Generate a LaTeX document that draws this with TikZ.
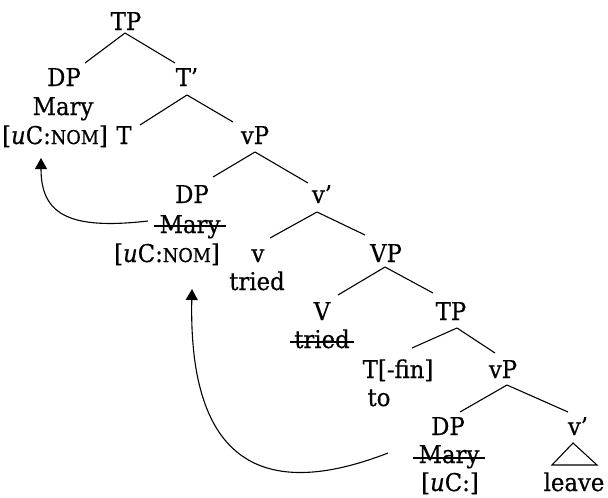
\documentclass[tikz,border=0pt]{standalone}
\usepackage{fontspec}
\setmainfont{DejaVu Serif}[FakeStretch=0.93,FakeBold=0.5]
\usetikzlibrary{arrows.meta,calc}
\newcommand\fakesc[1]{{\fontsize{19}{20}\selectfont #1}}
\begin{document}
\begin{tikzpicture}[x=1pt,y=-1pt,
  lbl/.style={anchor=base,inner sep=0pt,font=\fontsize{24.5}{28}\selectfont},
  edge/.style={line width=1.1pt},
  strike/.style={line width=1.1pt},
  mv/.style={line width=1.1pt,-{Triangle[width=12pt,length=11pt]}}]
\useasboundingbox (0,0) rectangle (608,498);
% row 0
\node[lbl] (tp0) at (126,30) {TP};
% row 1
\node[lbl] (dp1) at (64,86) {DP};
\node[lbl] (mary1) at (63,115) {Mary};
\node[lbl] (uc1) at (55,144) {[\textit{u}C:\fakesc{NOM}]};
\node[lbl] (tbar) at (187,86) {T’};
% row 2
\node[lbl] (t1) at (124,144) {T};
\node[lbl] (vp1) at (255,144) {vP};
% row 3
\node[lbl] (dp2) at (192,203) {DP};
\node[lbl] (mary2) at (190,233) {Mary};
\node[lbl] (uc2) at (167,262) {[\textit{u}C:\fakesc{NOM}]};
\node[lbl] (vbar2) at (322,203) {v’};
% row 4
\node[lbl] (v2) at (258,262) {v};
\node[lbl] (tried1) at (257,290) {tried};
\node[lbl] (VP) at (386,262) {VP};
% row 5
\node[lbl] (V) at (322,320) {V};
\node[lbl] (tried2) at (322,348) {tried};
\node[lbl] (tp3) at (451,320) {TP};
% row 6
\node[lbl] (tfin) at (398,378) {T[-fin]};
\node[lbl] (to) at (379,406) {to};
\node[lbl] (vp3) at (503,378) {vP};
% row 7
\node[lbl] (dp3) at (448,435) {DP};
\node[lbl] (mary3) at (449,463) {Mary};
\node[lbl] (uc3) at (450,491) {[\textit{u}C:]};
\node[lbl] (vbar3) at (578,435) {v’};
\node[lbl] (leave) at (574,491) {leave};

% tree edges
\draw[edge] ($(tp0.base)+(-1,3)$) -- ($(dp1.base)+(21,-23)$);
\draw[edge] ($(tp0.base)+(-1,3)$) -- ($(tbar.base)+(-12,-23)$);
\draw[edge] ($(tbar.base)+(0,9)$) -- ($(t1.base)+(16,-19)$);
\draw[edge] ($(tbar.base)+(0,9)$) -- ($(vp1.base)+(-22,-22)$);
\draw[edge] ($(vp1.base)+(0,8)$) -- ($(dp2.base)+(21,-26)$);
\draw[edge] ($(vp1.base)+(0,8)$) -- ($(vbar2.base)+(-14,-20)$);
\draw[edge] ($(vbar2.base)+(-5,9)$) -- ($(v2.base)+(12,-24)$);
\draw[edge] ($(vbar2.base)+(-5,9)$) -- ($(VP.base)+(-21,-27)$);
\draw[edge] ($(VP.base)+(-1,5)$) -- ($(V.base)+(16,-25)$);
\draw[edge] ($(VP.base)+(-1,5)$) -- ($(tp3.base)+(-18,-27)$);
\draw[edge] ($(tp3.base)+(6,8)$) -- ($(tfin.base)+(14,-30)$);
\draw[edge] ($(tp3.base)+(6,8)$) -- ($(vp3.base)+(-8,-25)$);
\draw[edge] ($(vp3.base)+(4,7)$) -- ($(dp3.base)+(12,-23)$);
\draw[edge] ($(vp3.base)+(4,7)$) -- ($(vbar3.base)+(-10,-23)$);
% triangle
\draw[edge] ($(vbar3.base)+(-5,8)$) -- ($(leave.base)+(-22,-26)$) -- ($(leave.base)+(23,-26)$) -- cycle;

% strike-throughs
\draw[strike] ($(mary2.base west)+(-5,-7)$) -- ($(mary2.base east)+(5,-7)$);
\draw[strike] ($(tried2.base west)+(-4,-6)$) -- ($(tried2.base east)+(4,-6)$);
\draw[strike] ($(mary3.base west)+(-5,-5)$) -- ($(mary3.base east)+(5,-5)$);

% movement arrows
\draw[mv] ($(mary2.base)+(-42,-12)$) .. controls ($(uc1.base)+(15,86)$) and ($(uc1.base)+(-14,71)$) .. ($(uc1.base)+(-14,14)$);
\draw[mv] ($(mary3.base)+(-61,-10)$) .. controls ($(uc2.base)+(113,233)$) and ($(uc2.base)+(21,218)$) .. ($(uc2.base)+(25,27)$);
\end{tikzpicture}
\end{document}
